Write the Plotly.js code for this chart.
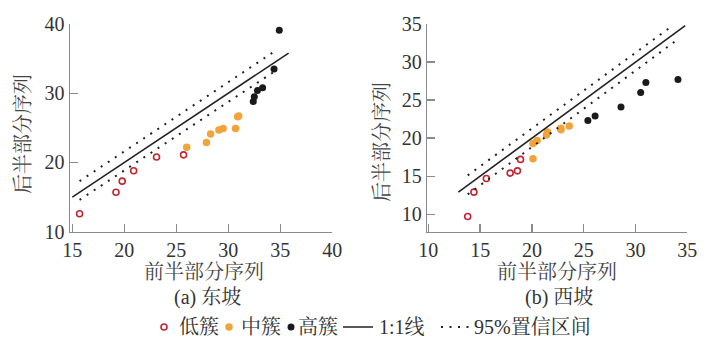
<!DOCTYPE html>
<html>
<head>
<meta charset="utf-8">
<script src="https://cdn.plot.ly/plotly-3.0.1.min.js"></script>
<style>html,body{margin:0;padding:0;background:#fff;}#chart{width:716px;height:347px;}</style>
</head>
<body>
<div id="chart"></div>
<script>
// ---- East slope (a) ----
const eastLowX  = [15.7, 19.2, 19.8, 20.9, 23.1, 25.7];
const eastLowY  = [12.6, 15.7, 17.3, 18.8, 20.8, 21.1];
const eastMidX  = [26.0, 27.9, 28.3, 29.1, 29.5, 30.7, 30.9, 31.0];
const eastMidY  = [22.2, 22.9, 24.1, 24.7, 24.9, 24.9, 26.6, 26.7];
const eastHighX = [32.4, 32.5, 32.8, 33.3, 34.4, 34.9];
const eastHighY = [28.8, 29.5, 30.4, 30.8, 33.5, 39.1];
const eastLineX = [15.0, 35.8];
const eastLineY = [15.0, 35.8];
const eastUpX = [15.7, 34.5];
const eastUpY = [17.3, 36.1];
const eastLoX = [15.7, 34.6];
const eastLoY = [14.6, 33.3];

// ---- West slope (b) ----
const westLowX  = [13.8, 14.4, 15.6, 17.9, 18.6, 18.9];
const westLowY  = [9.7, 12.9, 14.7, 15.4, 15.7, 17.2];
const westMidX  = [20.1, 20.1, 20.5, 21.4, 21.5, 22.8, 22.8, 23.6];
const westMidY  = [17.3, 19.3, 19.7, 20.4, 20.8, 21.1, 21.3, 21.6];
const westHighX = [25.4, 26.1, 28.6, 30.5, 31.0, 34.1];
const westHighY = [22.3, 22.9, 24.1, 26.0, 27.3, 27.7];
const westLineX = [12.9, 34.8];
const westLineY = [12.9, 34.8];
const westUpX = [13.8, 33.6];
const westUpY = [15.1, 34.8];
const westLoX = [13.8, 34.0];
const westLoY = [12.6, 32.9];

// ---- Labels ----
const legendNames = ['低簇', '中簇', '高簇', '1:1线', '95%置信区间'];
const xTitle = '前半部分序列';
const yTitle = '后半部分序列';
const subTitles = ['(a) 东坡', '(b) 西坡'];
const eastXTicks = [15, 20, 25, 30, 35, 40];
const eastYTicks = [10, 20, 30, 40];
const westXTicks = [10, 15, 20, 25, 30, 35];
const westYTicks = [10, 15, 20, 25, 30, 35];

const FONT = '"Liberation Serif", "Times New Roman", "Noto Serif CJK SC", "Noto Sans CJK SC", serif';
const RED = '#c3262e', ORANGE = '#f2a33a', BLACK = '#1a1a1a';
const W = 716, H = 347;
const LEG_Y = 327;
// legend key (symbol) left offsets and label left positions, in px
const legKeyPx = [144, 209, 271, 338, 436];
const legTextPx = [177, 239, 296, 377, 472];

function panel(s, suffix, show) {
  const xa = 'x' + suffix, ya = 'y' + suffix;
  return [
    {x: s.lowX, y: s.lowY, xaxis: xa, yaxis: ya, type: 'scatter', mode: 'markers', name: ' ', showlegend: show, legend: 'legend',
     marker: {symbol: 'circle-open', size: 6, color: RED, line: {width: 1.6, color: RED}}},
    {x: s.midX, y: s.midY, xaxis: xa, yaxis: ya, type: 'scatter', mode: 'markers', name: ' ', showlegend: show, legend: 'legend2',
     marker: {symbol: 'circle', size: 7.5, color: ORANGE}},
    {x: s.highX, y: s.highY, xaxis: xa, yaxis: ya, type: 'scatter', mode: 'markers', name: ' ', showlegend: show, legend: 'legend3',
     marker: {symbol: 'circle', size: 7, color: BLACK}},
    {x: s.lineX, y: s.lineY, xaxis: xa, yaxis: ya, type: 'scatter', mode: 'lines', name: ' ', showlegend: show, legend: 'legend4',
     line: {color: '#222', width: 1.6}},
    {x: s.upX, y: s.upY, xaxis: xa, yaxis: ya, type: 'scatter', mode: 'lines', name: ' ', showlegend: show, legend: 'legend5',
     line: {color: '#222', width: 2, dash: '2px,6.5px'}},
    {x: s.loX, y: s.loY, xaxis: xa, yaxis: ya, type: 'scatter', mode: 'lines', name: ' ', showlegend: false, legend: 'legend5',
     line: {color: '#222', width: 2, dash: '2px,6.5px'}}
  ];
}

const data = [].concat(
  panel({lowX: eastLowX, lowY: eastLowY, midX: eastMidX, midY: eastMidY, highX: eastHighX, highY: eastHighY,
         lineX: eastLineX, lineY: eastLineY, upX: eastUpX, upY: eastUpY, loX: eastLoX, loY: eastLoY}, '', true),
  panel({lowX: westLowX, lowY: westLowY, midX: westMidX, midY: westMidY, highX: westHighX, highY: westHighY,
         lineX: westLineX, lineY: westLineY, upX: westUpX, upY: westUpY, loX: westLoX, loY: westLoY}, '2', false)
);

function axisCommon(extra) {
  return Object.assign({
    showgrid: false, zeroline: false, showline: true, linecolor: '#8a8a8a', linewidth: 1.5,
    ticks: 'inside', ticklen: 8, tickwidth: 1.3, tickcolor: '#8a8a8a',
    tickfont: {family: FONT, size: 20, color: '#333'}, fixedrange: true, tickmode: 'array'
  }, extra);
}
const yDom = [1 - 231.7 / H, 1 - 24 / H];
const legFont = {family: FONT, size: 20, color: '#333'};
function leg(px) {
  return {orientation: 'h', x: px / W, xanchor: 'left', y: 1 - LEG_Y / H, yanchor: 'middle',
          font: legFont, itemwidth: 30, bgcolor: 'rgba(0,0,0,0)'};
}
function ann(text, px, py, extra) {
  return Object.assign({text: text, xref: 'paper', yref: 'paper', x: px / W, y: 1 - py / H, showarrow: false,
    xanchor: 'center', yanchor: 'middle', font: {family: FONT, size: 20, color: '#333'}}, extra || {});
}

const annotations = [
  ann(xTitle, 203.5, 272, {font: {family: FONT, size: 20, color: '#444'}}),
  ann(xTitle, 556.5, 272, {font: {family: FONT, size: 20, color: '#444'}}),
  ann(yTitle, 23, 134, {textangle: -90, font: {family: FONT, size: 20, color: '#444'}}),
  ann(yTitle, 382, 142, {textangle: -90, font: {family: FONT, size: 20, color: '#444'}}),
  ann(subTitles[0], 207, 297),
  ann(subTitles[1], 559, 297)
].concat(legendNames.map((n, i) => ann(n, legTextPx[i], LEG_Y, {xanchor: 'left'})));

const layout = {
  width: W, height: H,
  margin: {l: 0, r: 0, t: 0, b: 0},
  paper_bgcolor: '#fff', plot_bgcolor: '#fff',
  font: {family: FONT, size: 20, color: '#333'},
  showlegend: true,
  hovermode: false,
  xaxis: axisCommon({domain: [70 / W, 332.3 / W], range: [14.78, 40], tickvals: eastXTicks, anchor: 'y'}),
  yaxis: axisCommon({domain: yDom, range: [10, 40], tickvals: eastYTicks, anchor: 'x'}),
  xaxis2: axisCommon({domain: [427.3 / W, 687.3 / W], range: [9.9, 35], tickvals: westXTicks, anchor: 'y2'}),
  yaxis2: axisCommon({domain: yDom, range: [7.7, 35], tickvals: westYTicks, anchor: 'x2'}),
  legend: leg(legKeyPx[0]),
  legend2: leg(legKeyPx[1]),
  legend3: leg(legKeyPx[2]),
  legend4: leg(legKeyPx[3]),
  legend5: leg(legKeyPx[4]),
  annotations: annotations
};

Plotly.newPlot('chart', data, layout, {displayModeBar: false, staticPlot: true});
</script>
</body>
</html>
